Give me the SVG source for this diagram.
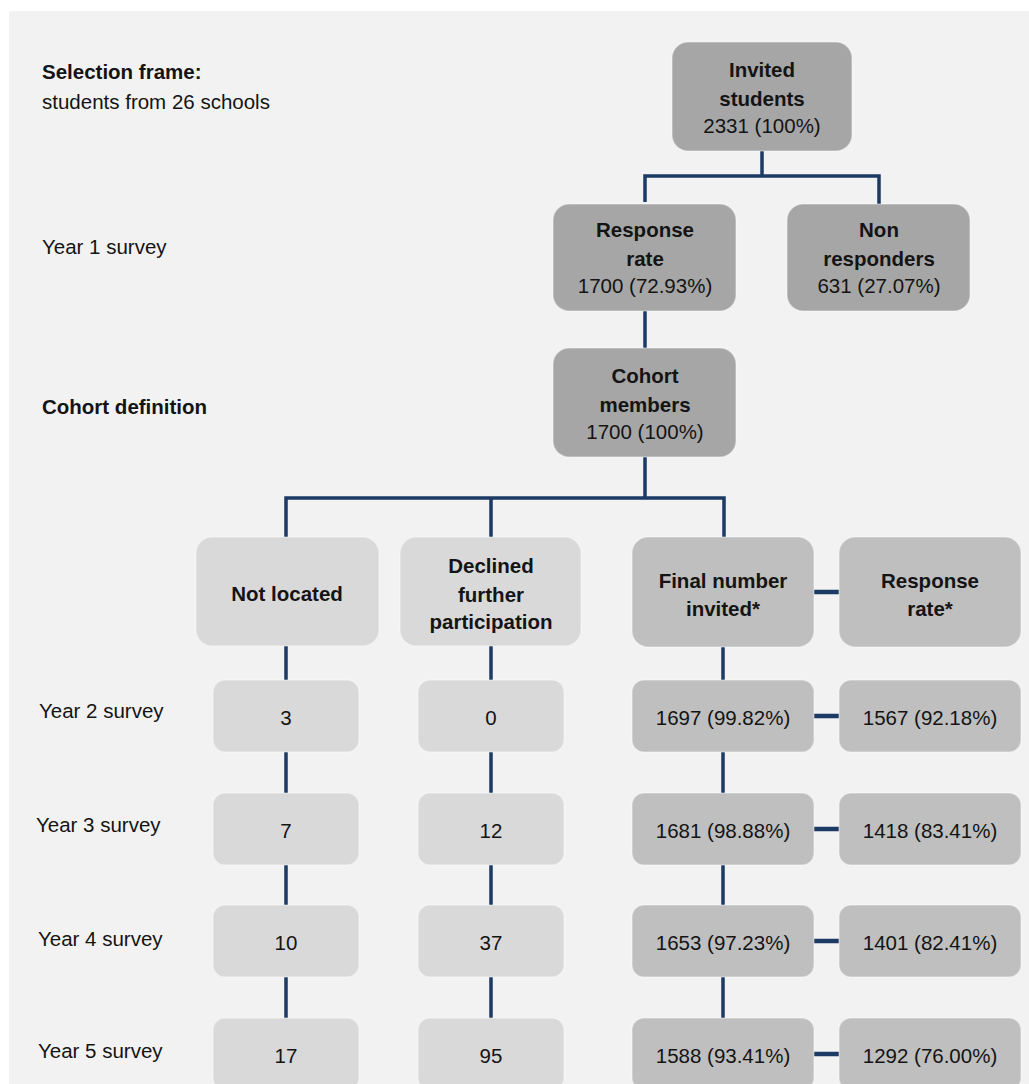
<svg xmlns="http://www.w3.org/2000/svg" width="1029" height="1084" viewBox="0 0 1029 1084">
<style>
text{font-family:"Liberation Sans",Arial,sans-serif;font-size:20.5px;fill:#141414}
.b{font-weight:bold}
.c{text-anchor:middle}
.dk{fill:#a6a6a6}
.md{fill:#bfbfbf}
.lt{fill:#d9d9d9}
rect.box{stroke:#ffffff;stroke-opacity:0.35;stroke-width:1.5}
.ln{stroke:#1b3a64;stroke-width:3.5;fill:none;stroke-linecap:butt}
.hl{stroke:#1b3a64;stroke-width:4.5;fill:none}
</style>
<rect x="0" y="0" width="1029" height="1084" fill="#ffffff"/>
<rect x="9" y="11" width="1020" height="1073" fill="#f2f2f2"/>

<g id="labels">
<text class="b" x="42" y="79">Selection frame:</text>
<text x="42" y="109">students from 26 schools</text>
<text x="42" y="254">Year 1 survey</text>
<text class="b" x="42" y="414">Cohort definition</text>
<text x="39" y="718">Year 2 survey</text>
<text x="36" y="832">Year 3 survey</text>
<text x="38" y="946">Year 4 survey</text>
<text x="38" y="1058">Year 5 survey</text>
</g>

<g id="connectors">
<path class="ln" d="M762 151 V176 M645 202 V176 H879 V204"/>
<path class="ln" d="M645 311 V348"/>
<path class="ln" d="M645 457 V498 M286 537 V498 H724 V537 M491 498 V537"/>
<path class="ln" d="M286 646 V680 M286 752 V793 M286 865 V905 M286 977 V1018"/>
<path class="ln" d="M491 646 V680 M491 752 V793 M491 865 V905 M491 977 V1018"/>
<path class="ln" d="M723 647 V680 M723 752 V793 M723 865 V905 M723 977 V1018"/>
<path class="hl" d="M814 592 H839 M814 716 H839 M814 829 H839 M814 941 H839 M814 1054 H839"/>
</g>

<g id="invited">
<rect class="box dk" x="672" y="42" width="180" height="109" rx="16"/>
<text class="b c" x="762" y="77">Invited</text>
<text class="b c" x="762" y="106">students</text>
<text class="c" x="762" y="133">2331 (100%)</text>
</g>
<g id="response1">
<rect class="box dk" x="553" y="204" width="183" height="107" rx="16"/>
<text class="b c" x="645" y="237">Response</text>
<text class="b c" x="645" y="266">rate</text>
<text class="c" x="645" y="293">1700 (72.93%)</text>
</g>
<g id="nonresp">
<rect class="box dk" x="787" y="204" width="183" height="107" rx="16"/>
<text class="b c" x="879" y="237">Non</text>
<text class="b c" x="879" y="266">responders</text>
<text class="c" x="879" y="293">631 (27.07%)</text>
</g>
<g id="cohort">
<rect class="box dk" x="553" y="348" width="183" height="109" rx="16"/>
<text class="b c" x="645" y="383">Cohort</text>
<text class="b c" x="645" y="412">members</text>
<text class="c" x="645" y="439">1700 (100%)</text>
</g>

<g id="notlocated">
<rect class="box lt" x="196" y="537" width="183" height="109" rx="16"/>
<text class="b c" x="287" y="601">Not located</text>
</g>
<g id="declined">
<rect class="box lt" x="400" y="537" width="181" height="109" rx="16"/>
<text class="b c" x="491" y="573">Declined</text>
<text class="b c" x="491" y="602">further</text>
<text class="b c" x="491" y="629">participation</text>
</g>
<g id="finalinvited">
<rect class="box md" x="632" y="537" width="182" height="110" rx="16"/>
<text class="b c" x="723" y="588">Final number</text>
<text class="b c" x="723" y="616">invited*</text>
</g>
<g id="responserate">
<rect class="box md" x="839" y="537" width="182" height="110" rx="16"/>
<text class="b c" x="930" y="588">Response</text>
<text class="b c" x="930" y="616">rate*</text>
</g>

<g id="y2">
<rect class="box lt" x="213" y="680" width="146" height="72" rx="12"/>
<text class="c" x="286" y="725">3</text>
<rect class="box lt" x="418" y="680" width="146" height="72" rx="12"/>
<text class="c" x="491" y="725">0</text>
<rect class="box md" x="632" y="680" width="182" height="72" rx="12"/>
<text class="c" x="723" y="725">1697 (99.82%)</text>
<rect class="box md" x="839" y="680" width="182" height="72" rx="12"/>
<text class="c" x="930" y="725">1567 (92.18%)</text>
</g>
<g id="y3">
<rect class="box lt" x="213" y="793" width="146" height="72" rx="12"/>
<text class="c" x="286" y="838">7</text>
<rect class="box lt" x="418" y="793" width="146" height="72" rx="12"/>
<text class="c" x="491" y="838">12</text>
<rect class="box md" x="632" y="793" width="182" height="72" rx="12"/>
<text class="c" x="723" y="838">1681 (98.88%)</text>
<rect class="box md" x="839" y="793" width="182" height="72" rx="12"/>
<text class="c" x="930" y="838">1418 (83.41%)</text>
</g>
<g id="y4">
<rect class="box lt" x="213" y="905" width="146" height="72" rx="12"/>
<text class="c" x="286" y="950">10</text>
<rect class="box lt" x="418" y="905" width="146" height="72" rx="12"/>
<text class="c" x="491" y="950">37</text>
<rect class="box md" x="632" y="905" width="182" height="72" rx="12"/>
<text class="c" x="723" y="950">1653 (97.23%)</text>
<rect class="box md" x="839" y="905" width="182" height="72" rx="12"/>
<text class="c" x="930" y="950">1401 (82.41%)</text>
</g>
<g id="y5">
<rect class="box lt" x="213" y="1018" width="146" height="72" rx="12"/>
<text class="c" x="286" y="1063">17</text>
<rect class="box lt" x="418" y="1018" width="146" height="72" rx="12"/>
<text class="c" x="491" y="1063">95</text>
<rect class="box md" x="632" y="1018" width="182" height="72" rx="12"/>
<text class="c" x="723" y="1063">1588 (93.41%)</text>
<rect class="box md" x="839" y="1018" width="182" height="72" rx="12"/>
<text class="c" x="930" y="1063">1292 (76.00%)</text>
</g>
</svg>
